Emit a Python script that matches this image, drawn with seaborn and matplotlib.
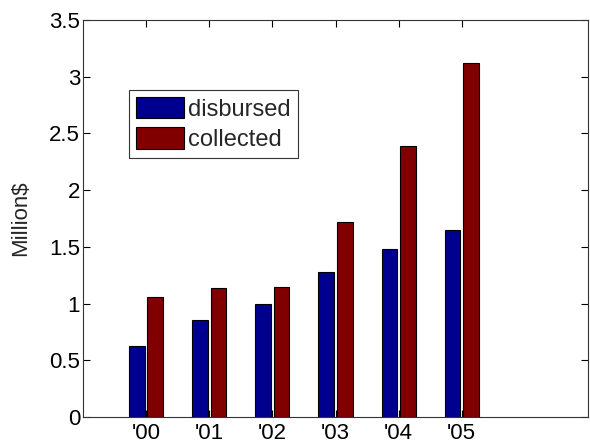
import matplotlib
matplotlib.use("Agg")
import matplotlib.pyplot as plt
import pandas as pd
import seaborn as sns

years = ["'00", "'01", "'02", "'03", "'04", "'05"]
disbursed = [0.63, 0.855, 0.995, 1.28, 1.485, 1.65]
collected = [1.06, 1.14, 1.15, 1.72, 2.39, 3.125]

df = pd.DataFrame({
    "year": years * 2,
    "value": disbursed + collected,
    "series": ["disbursed"] * len(years) + ["collected"] * len(years),
})

sns.set_theme(style="ticks")
plt.rcParams["font.family"] = ["Liberation Sans", "DejaVu Sans"]

fig = plt.figure(figsize=(5.9, 4.44), dpi=100)
ax = fig.add_axes([83 / 590, 1 - 417 / 444, 505 / 590, 397 / 444])

sns.barplot(data=df, x="year", y="value", hue="series",
            palette={"disbursed": "#00008f", "collected": "#800000"},
            width=0.58, gap=0.14, edgecolor="black", linewidth=0.8,
            saturation=1, ax=ax)

ax.set_xlim(-1, 7)
ax.set_ylim(0, 3.5)
ax.set_yticks([0, 0.5, 1, 1.5, 2, 2.5, 3, 3.5])
ax.set_yticklabels(["0", "0.5", "1", "1.5", "2", "2.5", "3", "3.5"])
ax.set_xlabel("")
ax.set_ylabel("Million$", fontsize=16, labelpad=13)
ax.tick_params(direction="in", length=5, width=0.8, labelsize=16,
               top=True, right=True, colors="black")
ax.tick_params(axis="y", pad=2)
ax.tick_params(axis="x", pad=4)
for s in ax.spines.values():
    s.set_visible(True)
    s.set_linewidth(0.8)
    s.set_color("#333333")

leg = ax.legend(loc="upper left", bbox_to_anchor=(0.091, 0.824),
                borderaxespad=0, fontsize=17, frameon=True, fancybox=False,
                edgecolor="black", handlelength=2.03, handleheight=1.02,
                handletextpad=0.17, borderpad=0.3, labelspacing=0.28)
leg.get_frame().set_linewidth(0.8)

fig.savefig("out.png", dpi=100)
